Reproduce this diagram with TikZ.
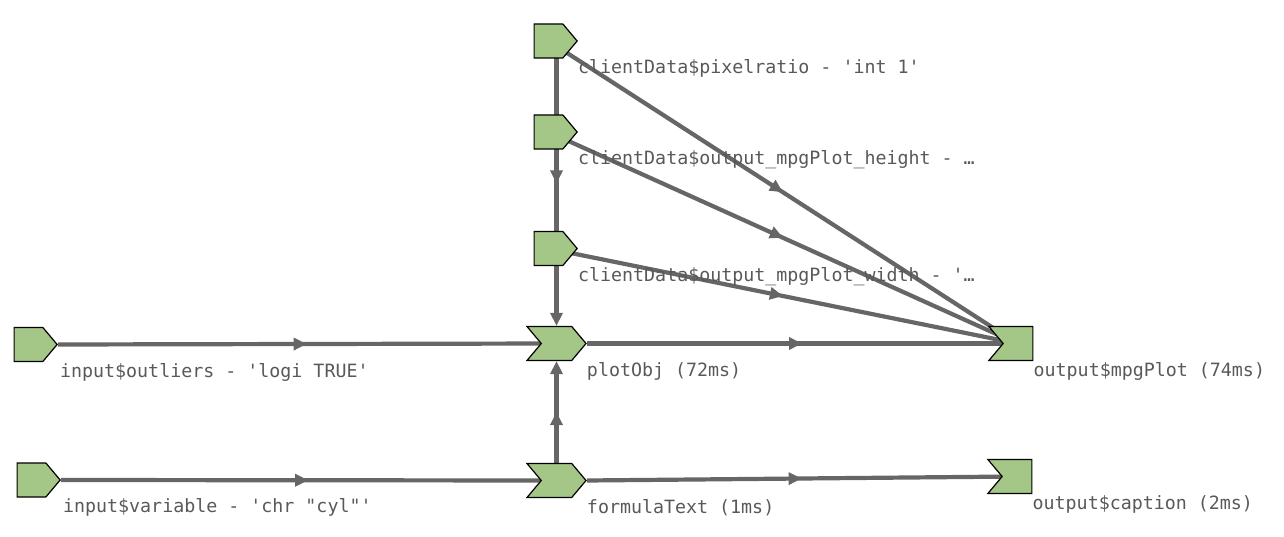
\documentclass[tikz,border=0pt]{standalone}
\usepackage{fontspec}
\setmonofont{DejaVu Sans Mono}
\usetikzlibrary{shapes.symbols,arrows.meta,decorations.markings,positioning,backgrounds}
\definecolor{nodegreen}{HTML}{A4C686}
\definecolor{edgegray}{HTML}{666666}
\definecolor{textgray}{HTML}{595959}
\begin{document}
\begin{tikzpicture}[
  x=1pt, y=-1pt,
  inputnode/.style={signal, signal to=east, signal pointer angle=100, draw=black, fill=nodegreen, line width=1.2pt, minimum width=43pt, minimum height=34pt, inner sep=0pt},
  reactnode/.style={inputnode, signal from=west, minimum width=59pt},
  outputnode/.style={inputnode, signal to=nowhere, signal from=west, minimum width=44pt},
  edge/.style={draw=edgegray, line width=4.2pt, -{Triangle[length=13pt,width=12pt]}, postaction=decorate,
    decoration={markings, mark=at position 0.5 with {\arrow{Triangle[length=13pt,width=12pt]}}}},
  lbl/.style={anchor=base west, yshift=-15pt, font=\ttfamily\fontsize{18.3}{20}\selectfont, text=textgray, inner sep=0pt},
  node distance=91pt
]
\useasboundingbox (0,0) rectangle (1284,537);

\node[inputnode] (pixelratio) at (548.5,41) {};
\node[inputnode, below of=pixelratio] (height) {};
\node[inputnode, below of=height, node distance=116.5pt] (width) {};
\node[inputnode] (outliers) at (28.5,344.5) {};
\node[inputnode] (variable) at (31.5,480) {};
\node[reactnode] (plotObj) at (556.5,343.5) {};
\node[reactnode] (formulaText) at (556.5,480.5) {};
\node[outputnode] (mpgPlot) at (1018,343.5) {};
\node[outputnode] (caption) at (1017,476.5) {};

\coordinate (plotIn) at ([xshift=15pt]plotObj.west);
\coordinate (formulaIn) at ([xshift=15pt]formulaText.west);
\coordinate (mpgIn) at ([xshift=15pt]mpgPlot.west);
\coordinate (captionIn) at ([xshift=15pt]caption.west);
\coordinate (pixelOut) at (plotObj.north |- pixelratio.center);

\begin{pgfonlayer}{background}
\draw[edge] (outliers.east) -- (plotIn);
\draw[edge] (variable.east) -- (formulaIn);
\draw[edge] (pixelOut) -- (plotObj.north);
\draw[edge] (formulaText.north) -- (plotObj.south);
\draw[edge] (pixelratio.center) -- (mpgIn);
\draw[edge] (height.center) -- (mpgIn);
\draw[edge] (width.center) -- (mpgIn);
\draw[edge] (plotObj.east) -- (mpgIn);
\draw[edge] (formulaText.east) -- (captionIn);
\end{pgfonlayer}

\node[lbl] (pixelratioLbl) at (pixelratio.east |- pixelratio.south) {clientData\$pixelratio - 'int 1'};
\node[lbl] (heightLbl) at (height.east |- height.south) {clientData\$output\_mpgPlot\_height - …};
\node[lbl] (widthLbl) at (width.east |- width.south) {clientData\$output\_mpgPlot\_width - '…};
\node[lbl] (outliersLbl) at ([xshift=2pt]outliers.east |- outliers.south) {input\$outliers - 'logi TRUE'};
\node[lbl] (variableLbl) at ([xshift=2pt]variable.east |- variable.south) {input\$variable - 'chr "cyl"'};
\node[lbl] (plotObjLbl) at (plotObj.east |- plotObj.south) {plotObj (72ms)};
\node[lbl] (formulaTextLbl) at (formulaText.east |- formulaText.south) {formulaText (1ms)};
\node[lbl] (mpgPlotLbl) at (mpgPlot.east |- mpgPlot.south) {output\$mpgPlot (74ms)};
\node[lbl] (captionLbl) at (caption.east |- caption.south) {output\$caption (2ms)};
\end{tikzpicture}
\end{document}
